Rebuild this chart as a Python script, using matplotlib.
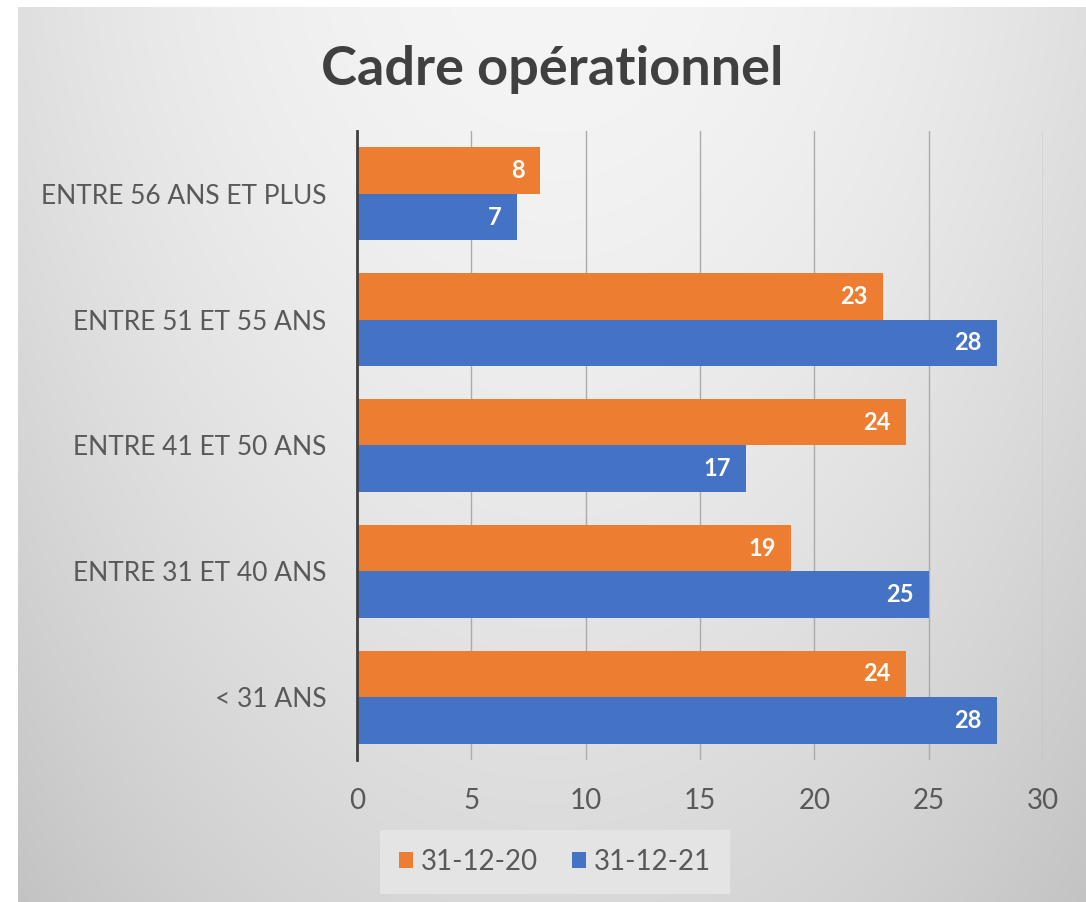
import numpy as np
import matplotlib
matplotlib.use("Agg")
import matplotlib.pyplot as plt

categories = ["< 31 ANS", "ENTRE 31 ET 40 ANS", "ENTRE 41 ET 50 ANS",
              "ENTRE 51 ET 55 ANS", "ENTRE 56 ANS ET PLUS"]
series_names = ["31-12-20", "31-12-21"]
vals_2020 = [24, 19, 24, 23, 8]
vals_2021 = [28, 25, 17, 28, 7]
colors = ["#ED7D31", "#4472C4"]
xticks = [0, 5, 10, 15, 20, 25, 30]

plt.rcParams["font.family"] = ["Lato", "DejaVu Sans"]
W, H = 1086, 902
fig = plt.figure(figsize=(W / 100, H / 100), dpi=100)
fig.patch.set_facecolor("white")

# background panel with soft gradient
bg = fig.add_axes([18 / W, 0, 1 - 18 / W, 1 - 7 / H], zorder=-10)
yy, xx = np.mgrid[0:895, 0:1068]
g = 0.96 - 0.11 * (yy / 895) ** 1.4 - 0.085 * (np.abs(xx - 534) / 534) ** 2
bg.imshow(np.dstack([g, g, g]), aspect="auto", extent=[0, 1, 0, 1], origin="upper")
bg.axis("off")

ax = fig.add_axes([357 / W, 1 - 760 / H, 686 / W, 629 / H])
ax.set_facecolor("none")

y = np.arange(len(categories))
h = 0.37
b1 = ax.barh(y + h / 2, vals_2020, height=h, color=colors[0], label=series_names[0], zorder=3)
b2 = ax.barh(y - h / 2, vals_2021, height=h, color=colors[1], label=series_names[1], zorder=3)

for bars in (b1, b2):
    for r in bars:
        w = r.get_width()
        ax.annotate(str(int(w)), (w, r.get_y() + r.get_height() / 2),
                    xytext=(-11, 0), textcoords="offset points",
                    ha="right", va="center", color="white",
                    fontsize=17, fontweight="bold", zorder=4)

ax.set_xlim(0, 30)
ax.set_ylim(-0.5, len(categories) - 0.5)
ax.set_xticks(xticks)
ax.set_yticks(y)
ax.set_yticklabels(categories)
ax.tick_params(axis="y", length=0, pad=22, labelsize=19, labelcolor="#595959")
ax.tick_params(axis="x", length=0, pad=20, labelsize=20, labelcolor="#595959")
ax.grid(axis="x", color="#ababab", lw=1, zorder=0)
for s in ["top", "right", "bottom"]:
    ax.spines[s].set_visible(False)
ax.spines["left"].set_color("#404040")
ax.spines["left"].set_linewidth(2)
ax.spines["left"].set_zorder(5)

fig.text(552 / W, 1 - 70 / H, "Cadre opérationnel", ha="center", va="center",
         fontsize=39, fontweight="bold", color="#404040")

leg = fig.legend(loc="center", bbox_to_anchor=(555 / W, 1 - 862 / H), ncol=2,
                 fontsize=20, frameon=True, handlelength=0.5, handleheight=0.5,
                 handletextpad=0.3, columnspacing=1.2, borderpad=0.4)
leg.get_frame().set_facecolor("#e4e4e4")
leg.get_frame().set_edgecolor("none")
leg.get_frame().set_alpha(1)
leg.get_frame().set_boxstyle("square")
for t in leg.get_texts():
    t.set_color("#595959")

fig.savefig("out.png", dpi=100)
